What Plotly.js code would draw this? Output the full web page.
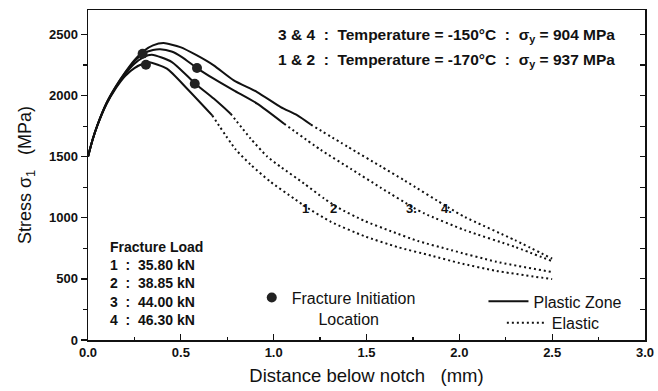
<!DOCTYPE html>
<html>
<head>
<meta charset="utf-8">
<script src="https://cdn.plot.ly/plotly-3.0.1.min.js"></script>
<style>html,body{margin:0;padding:0;background:#fff;}#chart{width:658px;height:391px;}</style>
</head>
<body>
<div id="chart"></div>
<script>
// ---- Curve 1 (35.80 kN) ----
const c1PlasticX = [0, 0.025, 0.05, 0.1, 0.15, 0.2, 0.25, 0.3, 0.33, 0.425, 0.534, 0.669];
const c1PlasticY = [1500, 1640, 1752, 1930, 2060, 2160, 2225, 2262, 2272, 2220, 2056, 1838];
const c1ElasticX = [0.669, 0.795, 0.876, 0.984, 1.11, 1.173, 1.308, 1.488, 1.668, 1.85, 2.0, 2.2, 2.5];
const c1ElasticY = [1838, 1560, 1435, 1293, 1157, 1090, 967, 850, 760, 690, 630, 565, 498];
// ---- Curve 2 (38.85 kN) ----
const c2PlasticX = [0, 0.025, 0.05, 0.1, 0.15, 0.2, 0.25, 0.3, 0.344, 0.452, 0.578, 0.677, 0.768];
const c2PlasticY = [1500, 1640, 1755, 1935, 2068, 2175, 2260, 2315, 2334, 2274, 2097, 1975, 1852];
const c2ElasticX = [0.768, 0.876, 0.966, 1.038, 1.164, 1.272, 1.35, 1.488, 1.632, 1.777, 1.957, 2.2, 2.5];
const c2ElasticY = [1852, 1648, 1500, 1416, 1280, 1157, 1080, 975, 890, 810, 735, 640, 556];
// ---- Curve 3 (44.00 kN) ----
const c3PlasticX = [0, 0.025, 0.05, 0.1, 0.15, 0.2, 0.25, 0.3, 0.35, 0.389, 0.45, 0.506, 0.587, 0.677, 0.785, 0.911, 1.056];
const c3PlasticY = [1500, 1640, 1755, 1940, 2072, 2185, 2280, 2345, 2372, 2378, 2360, 2315, 2225, 2138, 2042, 1934, 1770];
const c3ElasticX = [1.056, 1.254, 1.416, 1.578, 1.75, 1.812, 2.029, 2.299, 2.5];
const c3ElasticY = [1770, 1555, 1400, 1245, 1085, 1035, 899, 762, 645];
// ---- Curve 4 (46.30 kN) ----
const c4PlasticX = [0, 0.025, 0.05, 0.1, 0.15, 0.2, 0.25, 0.3, 0.35, 0.407, 0.497, 0.587, 0.677, 0.785, 0.911, 1.038, 1.128, 1.2];
const c4PlasticY = [1500, 1640, 1755, 1940, 2075, 2190, 2290, 2365, 2410, 2429, 2396, 2328, 2247, 2124, 2029, 1906, 1838, 1763];
const c4ElasticX = [1.2, 1.4, 1.578, 1.705, 1.94, 2.029, 2.299, 2.5];
const c4ElasticY = [1763, 1580, 1420, 1305, 1085, 1007, 817, 665];
// ---- Fracture initiation points ----
const fracX = [0.294, 0.312, 0.587, 0.575];
const fracY = [2342, 2252, 2225, 2097];
// ---- Curve labels ----
const curveLabels = ['1', '2', '3.', '4.'];
const curveLabelX = [1.169, 1.321, 1.743, 1.932];
const curveLabelY = [1078, 1078, 1078, 1078];
// ---- Fracture load table ----
const loadIds = ['1', '2', '3', '4'];
const loadValues = ['35.80', '38.85', '44.00', '46.30'];
// ---- Temperature notes ----
const tempGroups = ['3 & 4', '1 & 2'];
const tempValues = ['-150', '-170'];
const yieldValues = ['904', '937'];
// ---- Ticks ----
const xTickVals = [0, 0.5, 1.0, 1.5, 2.0, 2.5, 3.0];
const xTickText = ['0.0', '0.5', '1.0', '1.5', '2.0', '2.5', '3.0'];
const yTickVals = [0, 500, 1000, 1500, 2000, 2500];

const FONT = 'Liberation Sans, Arial, Helvetica, sans-serif';
const plasticLine = {color: '#111', width: 2, shape: 'spline', smoothing: 0.6};
const elasticLine = {color: '#111', width: 2, dash: '2px,3px', shape: 'spline', smoothing: 0.6};

const curves = [
  [c1PlasticX, c1PlasticY, c1ElasticX, c1ElasticY],
  [c2PlasticX, c2PlasticY, c2ElasticX, c2ElasticY],
  [c3PlasticX, c3PlasticY, c3ElasticX, c3ElasticY],
  [c4PlasticX, c4PlasticY, c4ElasticX, c4ElasticY]
];
const traces = [];
curves.forEach((c, i) => {
  const last = i === 3;
  traces.push({x: c[0], y: c[1], type: 'scatter', mode: 'lines', line: plasticLine,
    name: 'Plastic Zone', showlegend: last, legend: 'legend', hoverinfo: 'skip'});
  traces.push({x: c[2], y: c[3], type: 'scatter', mode: 'lines', line: elasticLine,
    name: 'Elastic', showlegend: last, legend: 'legend2', hoverinfo: 'skip'});
});
traces.push({x: fracX, y: fracY, type: 'scatter', mode: 'markers',
  marker: {color: '#222', size: 10, line: {width: 0}},
  name: 'Fracture Initiation<br>\u00a0\u00a0\u00a0\u00a0\u00a0\u00a0Location', legend: 'legend3', showlegend: true});
// dummy trace for right-hand tick axis
traces.push({x: [null], y: [null], yaxis: 'y2', type: 'scatter', mode: 'lines', showlegend: false, hoverinfo: 'skip'});

const annotations = [];
curveLabels.forEach((t, i) => annotations.push({x: curveLabelX[i], y: curveLabelY[i], xref: 'x', yref: 'y',
  text: '<b>' + t + '</b>', showarrow: false, font: {family: FONT, size: 13, color: '#111'}}));
annotations.push({x: 0.108, y: 763, xref: 'x', yref: 'y', xanchor: 'left', text: '<b>Fracture Load</b>',
  showarrow: false, font: {family: FONT, size: 14, color: '#111'}});
const loadRowY = [614, 466, 313, 164];
loadIds.forEach((id, i) => annotations.push({x: 0.108, y: loadRowY[i], xref: 'x', yref: 'y', xanchor: 'left',
  text: '<b>' + id + '\u00a0\u00a0:\u00a0\u00a0' + loadValues[i] + ' kN</b>', showarrow: false,
  font: {family: FONT, size: 14, color: '#111'}}));
const tempRowY = [2490, 2285];
tempGroups.forEach((g, i) => annotations.push({x: 1.015, y: tempRowY[i], xref: 'x', yref: 'y', xanchor: 'left',
  text: '<b>' + g + '\u00a0\u00a0:\u00a0\u00a0Temperature = ' + tempValues[i] + '°C\u00a0\u00a0:\u00a0\u00a0σ<sub>y</sub> = ' + yieldValues[i] + ' MPa</b>',
  showarrow: false, font: {family: FONT, size: 15.5, color: '#111'}}));

const legendFont = {family: FONT, size: 16, color: '#111'};
const layout = {
  width: 658, height: 391,
  margin: {l: 88, r: 13, t: 10, b: 51},
  paper_bgcolor: '#fff', plot_bgcolor: '#fff',
  font: {family: FONT, color: '#111'},
  xaxis: {
    range: [0, 3], tickvals: xTickVals, ticktext: xTickText,
    ticks: 'inside', ticklen: 6, tickwidth: 1.3, tickcolor: '#111',
    minor: {dtick: 0.25, tick0: 0, ticks: 'inside', ticklen: 3, tickwidth: 1.2, tickcolor: '#111'},
    showline: true, linecolor: '#111', linewidth: 1.5, mirror: true,
    showgrid: false, zeroline: false,
    tickfont: {family: FONT, size: 13, color: '#111', weight: 'bold'},
    title: {text: 'Distance below notch\u00a0\u00a0\u00a0(mm)', font: {family: FONT, size: 18.5, color: '#111'}, standoff: 10}
  },
  yaxis: {
    range: [0, 2700], tickvals: yTickVals,
    ticks: 'outside', ticklen: 6, tickwidth: 1.3, tickcolor: '#111',
    minor: {dtick: 250, tick0: 0, ticks: 'outside', ticklen: 4, tickwidth: 1.2, tickcolor: '#111'},
    showline: true, linecolor: '#111', linewidth: 1.5, mirror: true,
    showgrid: false, zeroline: false,
    tickfont: {family: FONT, size: 13, color: '#111', weight: 'bold'},
    title: {text: 'Stress\u00a0σ<sub>1</sub>\u00a0\u00a0\u00a0(MPa)', font: {family: FONT, size: 18, color: '#111'}, standoff: 12}
  },
  yaxis2: {
    overlaying: 'y', side: 'right', range: [0, 2700], dtick: 250, tick0: 0,
    ticks: 'inside', ticklen: 5, tickwidth: 1.2, tickcolor: '#111',
    showticklabels: false, showgrid: false, zeroline: false, showline: false
  },
  legend: {x: 0.71, y: 0.117, xanchor: 'left', yanchor: 'middle', bgcolor: 'rgba(0,0,0,0)',
    font: legendFont, itemwidth: 40},
  legend2: {x: 0.743, y: 0.052, xanchor: 'left', yanchor: 'middle', bgcolor: 'rgba(0,0,0,0)',
    font: legendFont, itemwidth: 40},
  legend3: {x: 0.294, y: 0.18, xanchor: 'left', yanchor: 'top', bgcolor: 'rgba(0,0,0,0)',
    font: {family: FONT, size: 16, color: '#111'}, valign: 'top', itemwidth: 30},
  annotations: annotations,
  showlegend: true
};
Plotly.newPlot('chart', traces, layout, {displayModeBar: false, staticPlot: true});
</script>
</body>
</html>
